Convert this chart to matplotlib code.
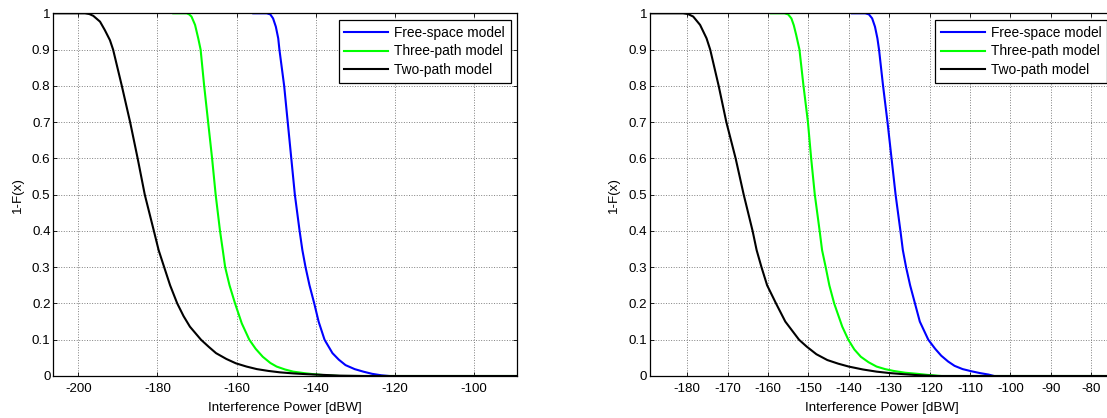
import numpy as np
import matplotlib.pyplot as plt
from matplotlib.ticker import FormatStrFormatter

plt.rcParams['font.family'] = ['Liberation Sans', 'DejaVu Sans']
plt.rcParams['font.size'] = 9.6
plt.rcParams['axes.unicode_minus'] = False

labels = ['Free-space model', 'Three-path model', 'Two-path model']
colors = ['#0000ff', '#00ff00', '#000000']

# left panel, x in dBW, y = 1-F(x)
left_free_x = [-155.8, -152.4, -151.5, -150.8, -150.1, -149.5, -149.2, -148.0, -147.1, -146.2,
               -145.3, -144.1, -143.4, -142.6, -141.6, -140.4, -139.3, -137.8, -135.8, -134.2,
               -132.5, -130.2, -128.0, -125.8, -123.5, -121.5]
left_free_y = [1.0, 1.0, 0.997, 0.986, 0.963, 0.931, 0.9, 0.8, 0.7, 0.6,
               0.5, 0.4, 0.347, 0.3, 0.25, 0.2, 0.15, 0.1, 0.063, 0.045,
               0.03, 0.019, 0.012, 0.006, 0.002, 0.0]
left_three_x = [-176.0, -172.6, -172.0, -171.4, -170.5, -169.7, -169.1, -168.2, -167.2, -166.2,
                -165.3, -164.2, -163.5, -162.9, -161.8, -160.4, -158.7, -156.8, -155.2, -153.4,
                -151.5, -149.9, -147.8, -145.7, -143.0, -140.6, -137.5, -134.0, -89.0]
left_three_y = [1.0, 1.0, 0.997, 0.991, 0.968, 0.931, 0.9, 0.8, 0.7, 0.6,
                0.5, 0.4, 0.347, 0.3, 0.25, 0.2, 0.145, 0.1, 0.075, 0.053,
                0.036, 0.026, 0.018, 0.012, 0.008, 0.005, 0.002, 0.0, 0.0]
left_two_x = [-206.3, -198.3, -197.2, -196.2, -194.5, -193.3, -192.0, -191.2, -189.0, -186.9,
              -185.0, -183.2, -180.9, -179.7, -178.3, -176.8, -175.0, -173.4, -171.8, -169.0,
              -167.0, -165.2, -162.6, -160.2, -157.5, -154.9, -152.0, -149.0, -145.5, -142.3,
              -138.0, -133.9, -128.0, -89.0]
left_two_y = [1.0, 1.0, 0.998, 0.993, 0.977, 0.954, 0.926, 0.9, 0.8, 0.7,
              0.6, 0.5, 0.4, 0.347, 0.3, 0.25, 0.2, 0.165, 0.136, 0.1,
              0.08, 0.063, 0.047, 0.035, 0.026, 0.019, 0.014, 0.01, 0.007, 0.005,
              0.003, 0.001, 0.0, 0.0]

# right panel
right_free_x = [-139.2, -135.9, -135.0, -134.2, -133.5, -132.9, -132.5, -131.5, -130.4, -129.4,
                -128.4, -127.2, -126.6, -125.8, -124.8, -123.6, -122.4, -120.3, -118.6, -117.1,
                -115.4, -113.8, -111.8, -109.6, -107.5, -105.4, -104.0]
right_free_y = [1.0, 1.0, 0.997, 0.986, 0.963, 0.931, 0.9, 0.8, 0.7, 0.6,
                0.5, 0.4, 0.347, 0.3, 0.25, 0.2, 0.15, 0.1, 0.075, 0.056,
                0.04, 0.028, 0.019, 0.013, 0.008, 0.004, 0.0]
right_three_x = [-159.3, -155.9, -155.0, -154.2, -153.6, -153.0, -152.2, -151.2, -150.1, -149.3,
                 -148.4, -147.2, -146.6, -145.7, -144.8, -143.6, -141.6, -140.1, -138.6, -137.0,
                 -135.1, -133.1, -131.0, -128.9, -126.0, -123.0, -120.5, -117.0, -60.0]
right_three_y = [1.0, 1.0, 0.997, 0.986, 0.967, 0.94, 0.9, 0.8, 0.7, 0.6,
                 0.5, 0.4, 0.347, 0.3, 0.25, 0.2, 0.136, 0.1, 0.073, 0.053,
                 0.038, 0.026, 0.019, 0.014, 0.009, 0.006, 0.003, 0.0, 0.0]
right_two_x = [-189.2, -181.0, -179.8, -178.5, -176.8, -175.2, -174.3, -172.2, -170.3, -168.0,
               -166.0, -163.8, -162.8, -161.6, -160.2, -158.0, -155.7, -152.3, -150.4, -148.0,
               -145.3, -142.6, -140.0, -136.5, -133.1, -129.8, -126.4, -122.5, -118.0, -60.0]
right_two_y = [1.0, 1.0, 0.998, 0.991, 0.968, 0.931, 0.9, 0.8, 0.7, 0.6,
               0.5, 0.4, 0.347, 0.3, 0.25, 0.2, 0.15, 0.1, 0.081, 0.06,
               0.044, 0.034, 0.026, 0.018, 0.012, 0.008, 0.005, 0.002, 0.0, 0.0]

W, H = 1107, 418
fig = plt.figure(figsize=(W / 100, H / 100), dpi=100)


def panel(rect, xlim, xticks, series):
    ax = fig.add_axes(rect)
    for (x, y), c, lab in zip(series, colors, labels):
        ax.plot(x, y, color=c, lw=1.5, label=lab)
    ax.set_xlim(*xlim)
    ax.set_ylim(0, 1)
    ax.set_xticks(xticks)
    ax.set_yticks(np.arange(0, 1.01, 0.1))
    ax.yaxis.set_major_formatter(FormatStrFormatter('%g'))
    ax.grid(True, color='#808080', linestyle=':', linewidth=0.7)
    ax.tick_params(direction='in', top=True, right=True, length=3, width=0.6, labelsize=9.6)
    ax.tick_params(axis='x', pad=5)
    ax.tick_params(axis='y', pad=2)
    for s in ax.spines.values():
        s.set_linewidth(0.9)
    ax.set_xlabel('Interference Power [dBW]', fontsize=9.6, labelpad=5)
    ax.set_ylabel('1-F(x)', fontsize=9.6, labelpad=6)
    wpx = rect[2] * W
    hpx = rect[3] * H
    leg = ax.legend(loc='upper right', bbox_to_anchor=(1 - 6.5 / wpx, 1 - 7 / hpx),
                    borderaxespad=0, fancybox=False,
                    edgecolor='black', framealpha=1, handlelength=3.2, handletextpad=0.45,
                    labelspacing=0.34, borderpad=0.4, fontsize=9.9)
    leg.get_frame().set_linewidth(0.9)
    return ax


bottom = (H - 376) / H
height = (376 - 13.3) / H
axw = 463.7 / W

panel([53.3 / W, bottom, axw, height], (-206.3, -89.2),
      [-200, -180, -160, -140, -120, -100],
      [(left_free_x, left_free_y), (left_three_x, left_three_y), (left_two_x, left_two_y)])

panel([650 / W, bottom, axw, height], (-189.2, -74.4),
      [-180, -170, -160, -150, -140, -130, -120, -110, -100, -90, -80],
      [(right_free_x, right_free_y), (right_three_x, right_three_y), (right_two_x, right_two_y)])

fig.savefig('out.png', dpi=100)
